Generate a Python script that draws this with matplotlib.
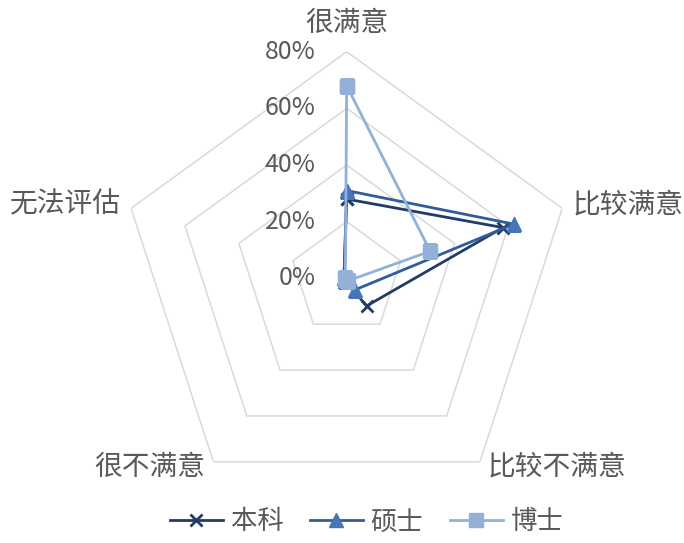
import matplotlib
matplotlib.use("Agg")
import matplotlib.pyplot as plt
import numpy as np

plt.rcParams['font.family'] = ['Noto Sans CJK SC', 'DejaVu Sans']

categories = ['很满意', '比较满意', '比较不满意', '很不满意', '无法评估']
series_names = ['本科', '硕士', '博士']
benke = [28, 58, 12, 1, 1]
shuoshi = [31, 62, 5, 1, 1]
boshi = [68, 31, 1, 0.5, 0.5]
levels = [0, 20, 40, 60, 80]
level_labels = ['0%', '20%', '40%', '60%', '80%']

line_colors = ['#223c66', '#2f5d9c', '#92b0d8']
marker_face = ['#223c66', '#4676b8', '#92b0d8']
markers = ['x', '^', 's']
msizes = [9, 10, 10]
text_color = '#595959'

fig = plt.figure(figsize=(6.84, 5.43), dpi=100)
ax = fig.add_axes([0.1754, 0.0698, 0.6629, 0.835], projection='polar')
ax.set_theta_offset(np.pi / 2)
ax.set_theta_direction(-1)

n = len(categories)
theta = np.linspace(0, 2 * np.pi, n, endpoint=False)
theta_closed = np.append(theta, theta[0])

# pentagon grid
for lv in levels[1:]:
    ax.plot(theta_closed, [lv] * (n + 1), color='#d9d9d9', lw=1.1, zorder=1)

for i, vals in enumerate([benke, shuoshi, boshi]):
    v = np.append(vals, vals[0])
    ax.plot(theta_closed, v, color=line_colors[i], lw=2.0, marker=markers[i],
            markersize=msizes[i], markerfacecolor=marker_face[i],
            markeredgecolor=marker_face[i], markeredgewidth=2 if markers[i] == 'x' else 1,
            label=series_names[i], zorder=3)

ax.set_ylim(0, 80)
ax.set_xticks([])
ax.set_yticks([])
ax.grid(False)
ax.spines['polar'].set_visible(False)
ax.patch.set_alpha(0)

for lv, lab in zip(levels, level_labels):
    ax.annotate(lab, xy=(0, lv), xytext=(-31, 0), textcoords='offset pixels',
                ha='right', va='center', fontsize=18, color=text_color)

label_pos = [((0, 29), 'center'), ((10, 4), 'left'), ((8, -5), 'left'),
             ((-8, -5), 'right'), ((-10, 4), 'right')]
for t, cat, (off, ha) in zip(theta, categories, label_pos):
    ax.annotate(cat, xy=(t, 80), xytext=off, textcoords='offset pixels',
                ha=ha, va='center', fontsize=20, color=text_color)

leg = fig.legend(loc='center', bbox_to_anchor=(0.536, 0.0387), ncol=3, frameon=False,
                 fontsize=19, handlelength=2.0, handletextpad=0.3, columnspacing=1.0)
for t in leg.get_texts():
    t.set_color(text_color)

fig.savefig('out.png', dpi=100)
